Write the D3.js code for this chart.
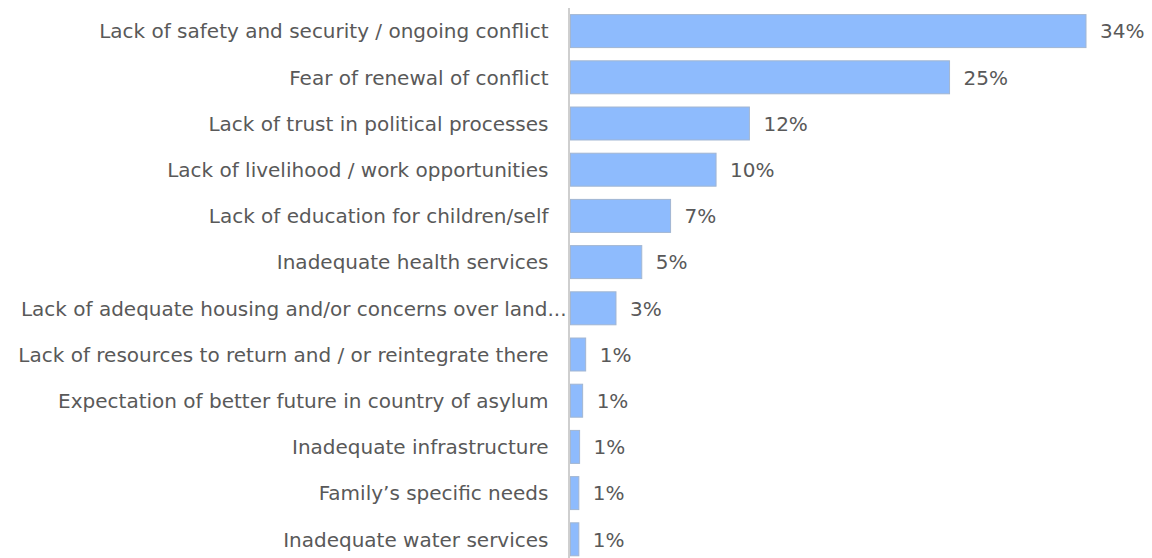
<!DOCTYPE html>
<html>
<head>
<meta charset="utf-8">
<script src="https://cdn.jsdelivr.net/npm/d3@7"></script>
<style>
  html, body { margin: 0; padding: 0; background: #ffffff; }
  svg { display: block; }
</style>
</head>
<body>
<svg id="chart" width="1152" height="558"></svg>
<script>
// Reasons cited for not returning, share of respondents (%)
const categories = [
  "Lack of safety and security / ongoing conflict",
  "Fear of renewal of conflict",
  "Lack of trust in political processes",
  "Lack of livelihood / work opportunities",
  "Lack of education for children/self",
  "Inadequate health services",
  "Lack of adequate housing and/or concerns over land...",
  "Lack of resources to return and / or reintegrate there",
  "Expectation of better future in country of asylum",
  "Inadequate infrastructure",
  "Family’s specific needs",
  "Inadequate water services"
];
const values = [34, 25, 11.8, 9.6, 6.6, 4.7, 3.0, 1.0, 0.8, 0.6, 0.55, 0.55];

const svg = d3.select("#chart");
const W = 1152, H = 558;
const axisX = 570.5;

const x = d3.scaleLinear().domain([0, 34]).range([axisX, 1086]);
const y = d3.scaleBand()
  .domain(categories)
  .range([8, 8 + 46.2 * categories.length])
  .paddingInner(0.286)
  .paddingOuter(0.143);

const fmt = v => Math.round(v) + "%";
const font = "'DejaVu Sans', Verdana, sans-serif";
const textColor = "#595959";

// bars
svg.append("g")
  .selectAll("rect")
  .data(values)
  .join("rect")
  .attr("x", x(0))
  .attr("y", (d, i) => y(categories[i]))
  .attr("width", d => x(d) - x(0))
  .attr("height", y.bandwidth())
  .attr("fill", "#8EBBFD")
  .attr("stroke", "#A2B6D2")
  .attr("stroke-width", 1);

// category axis line
svg.append("line")
  .attr("x1", axisX - 1.5).attr("x2", axisX - 1.5)
  .attr("y1", 8).attr("y2", H)
  .attr("stroke", "#BFBFBF")
  .attr("stroke-width", 1.5);

// category labels
svg.append("g")
  .selectAll("text")
  .data(categories)
  .join("text")
  .attr("x", d => d.endsWith("...") ? axisX - 4 : axisX - 22)
  .attr("y", d => y(d) + y.bandwidth() / 2)
  .attr("dy", "0.36em")
  .attr("text-anchor", "end")
  .attr("font-family", font)
  .attr("font-size", 20)
  .attr("fill", textColor)
  .text(d => d);

// value labels
svg.append("g")
  .selectAll("text")
  .data(values)
  .join("text")
  .attr("x", d => x(d) + 14)
  .attr("y", (d, i) => y(categories[i]) + y.bandwidth() / 2)
  .attr("dy", "0.36em")
  .attr("font-family", font)
  .attr("font-size", 20)
  .attr("fill", textColor)
  .text(d => fmt(d));
</script>
</body>
</html>
